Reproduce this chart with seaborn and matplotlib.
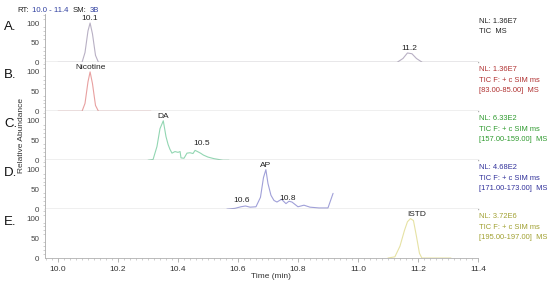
import numpy as np
import pandas as pd
import matplotlib.pyplot as plt
import seaborn as sns
from matplotlib.ticker import MultipleLocator

# Trace A: TIC MS
time_a = [10.0, 10.08, 10.09, 10.10, 10.107, 10.115, 10.125, 10.135, 11.13, 11.15, 11.165, 11.18, 11.195, 11.215, 11.40]
abund_a = [0, 0, 25, 80, 100, 72, 18, 0, 0, 10, 24, 22, 10, 0, 0]

# Trace B: 83-85 (Nicotine)
time_b = [10.0, 10.08, 10.09, 10.10, 10.107, 10.115, 10.125, 10.135, 10.31]
abund_b = [0, 0, 20, 75, 100, 70, 15, 0, 0]

# Trace C: 157-159 (DA)
time_c = [10.30, 10.317, 10.33, 10.34, 10.351, 10.36, 10.367, 10.373, 10.38, 10.39, 10.40, 10.407,
          10.41, 10.42, 10.43, 10.44, 10.45, 10.457, 10.465, 10.475, 10.485, 10.50, 10.52, 10.55, 10.57]
abund_c = [0, 2, 35, 80, 100, 60, 40, 28, 18, 22, 20, 22,
           6, 5, 18, 19, 17, 25, 22, 18, 13, 8, 4, 0, 0]

# Trace D: 171-173 (AP)
time_d = [10.563, 10.59, 10.61, 10.625, 10.64, 10.66, 10.675, 10.685, 10.693, 10.70, 10.71, 10.72,
          10.73, 10.745, 10.76, 10.77, 10.78, 10.79, 10.80, 10.82, 10.84, 10.87, 10.90, 10.917]
abund_d = [0, 2, 6, 8, 5, 6, 30, 80, 100, 65, 35, 22,
           18, 25, 14, 20, 18, 12, 6, 10, 5, 3, 3, 40]

# Trace E: 195-197 (ISTD)
time_e = [11.10, 11.123, 11.14, 11.155, 11.165, 11.175, 11.185, 11.195, 11.205, 11.213, 11.23, 11.31]
abund_e = [0, 3, 30, 70, 92, 100, 95, 55, 12, 0, 0, 0]

traces = [(time_a, abund_a), (time_b, abund_b), (time_c, abund_c), (time_d, abund_d), (time_e, abund_e)]
panel_labels = ['A.', 'B.', 'C.', 'D.', 'E.']
trace_colors = ['#b8b0c4', '#e8a0a0', '#92d6b2', '#a0a0d8', '#e6e2a4']
text_colors = ['#222222', '#b03030', '#2e9a2e', '#30309a', '#a0a030']
info_texts = [
    ['NL: 1.36E7', 'TIC  MS'],
    ['NL: 1.36E7', 'TIC F: + c SIM ms', '[83.00-85.00]  MS'],
    ['NL: 6.33E2', 'TIC F: + c SIM ms', '[157.00-159.00]  MS'],
    ['NL: 4.68E2', 'TIC F: + c SIM ms', '[171.00-173.00]  MS'],
    ['NL: 3.72E6', 'TIC F: + c SIM ms', '[195.00-197.00]  MS'],
]
# peak annotations: (panel, x, y, text)
peak_labels = [
    (0, 10.107, 102, '10.1'), (0, 11.17, 27, '11.2'),
    (1, 10.107, 102, 'Nicotine'),
    (2, 10.351, 102, 'DA'), (2, 10.48, 33, '10.5'),
    (3, 10.693, 103, 'AP'), (3, 10.613, 14, '10.6'), (3, 10.767, 18, '10.8'),
    (4, 11.197, 102, 'ISTD'),
]
header_parts = [('RT:', '#222222'), ('10.0 - 11.4', '#3040a0'), ('SM:', '#222222'), ('3B', '#3040a0')]

sns.set_style('white')
plt.rcParams['font.family'] = ['Liberation Sans', 'DejaVu Sans']

fig, axes = plt.subplots(5, 1, figsize=(5.5, 2.82), dpi=100, sharex=True)
fig.subplots_adjust(left=0.082, right=0.869, top=0.952, bottom=0.085, hspace=0)

for i, ax in enumerate(axes):
    df = pd.DataFrame({'time': traces[i][0], 'abund': traces[i][1]})
    sns.lineplot(data=df, x='time', y='abund', ax=ax, color=trace_colors[i], linewidth=0.8)
    ax.set_xlim(9.957, 11.40)
    ax.set_ylim(0, 124)
    ax.set_xlabel('')
    ax.set_ylabel('')
    for s in ['top', 'right']:
        ax.spines[s].set_visible(False)
    ax.spines['left'].set_color('#aaaaaa')
    ax.spines['bottom'].set_color('#b0b0b0')
    ax.spines['left'].set_linewidth(0.6)
    ax.spines['bottom'].set_linewidth(1.0)
    ax.yaxis.set_major_locator(MultipleLocator(50))
    ax.yaxis.set_minor_locator(MultipleLocator(10))
    ax.tick_params(axis='y', which='major', length=3, width=0.5, color='#999999', labelsize=5.8, pad=1, labelcolor='#444444')
    ax.tick_params(axis='y', which='minor', length=1.5, width=0.4, color='#aaaaaa', left=True)
    if i < 4:
        ax.tick_params(axis='x', which='both', bottom=False, labelbottom=False)
    fig.text(4 / 550, (ax.get_position().y1 - 13 / 282), panel_labels[i], fontsize=9.5, va='center', ha='left', color='#111111')
    # info text to the right
    top_y = ax.get_position().y1 - 4 / 282
    for j, line in enumerate(info_texts[i]):
        fig.text(479 / 550, top_y - j * 10.5 / 282, line, fontsize=5.4, va='top', ha='left', color=text_colors[i])

for p, x, y, t in peak_labels:
    axes[p].text(x, y, t, fontsize=6, ha='center', va='bottom', color='#222222')

bottom = axes[4]
bottom.xaxis.set_major_locator(MultipleLocator(0.2))
bottom.xaxis.set_minor_locator(MultipleLocator(0.02))
bottom.tick_params(axis='x', which='major', length=3, width=0.5, color='#999999', labelsize=6, pad=3, labelcolor='#333333', bottom=True)
bottom.tick_params(axis='x', which='minor', length=1.5, width=0.4, color='#aaaaaa', bottom=True)
bottom.spines['bottom'].set_linewidth(0.6)

fig.text(291 / 550, 1 - 276 / 282, 'Time (min)', fontsize=6, ha='right', va='center', color='#333333')
fig.text(22 / 550, 1 - 135 / 282, 'Relative Abundance', fontsize=6, rotation=90, ha='center', va='center', color='#333333')

# header, laid out piece by piece
renderer = fig.canvas.get_renderer()
x_px = 17
gaps = [3, 5, 3, 0]
for (txt, col), gap in zip(header_parts, gaps):
    t = fig.text(x_px / 550, 1 - 10 / 282, txt, fontsize=5.6, va='center', color=col)
    x_px += t.get_window_extent(renderer).width + gap

fig.savefig('out.png', dpi=100)
